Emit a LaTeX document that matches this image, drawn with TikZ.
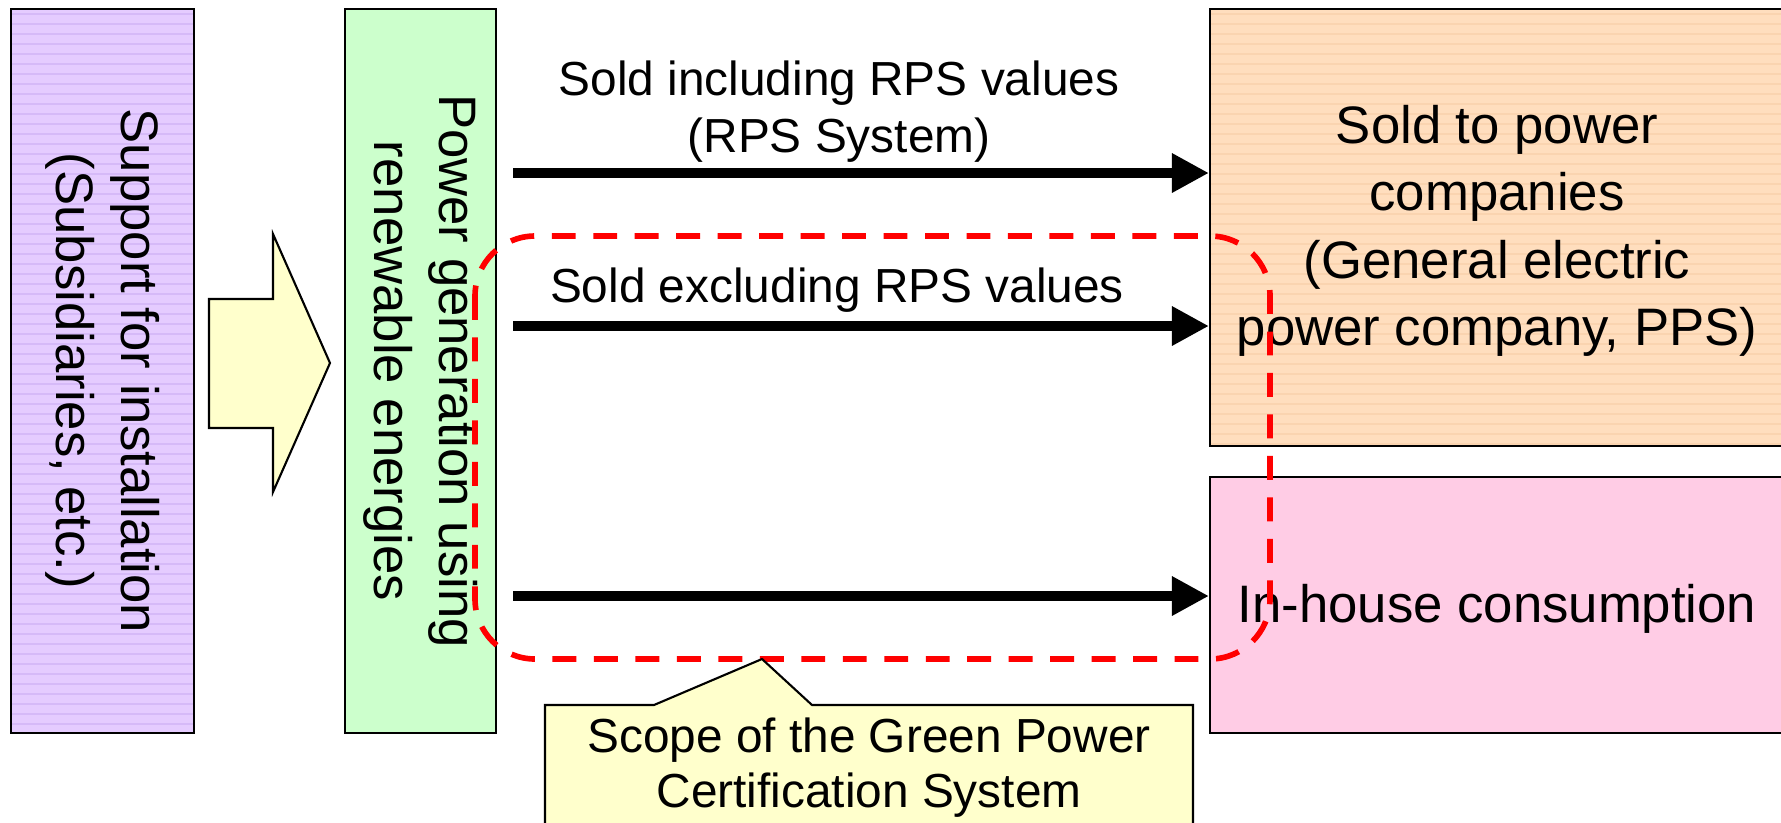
\documentclass[tikz,border=0pt]{standalone}
\usepackage{fontspec}
\setmainfont{Liberation Sans}
\usetikzlibrary{arrows.meta}

\definecolor{lilac}{RGB}{229,204,255}
\definecolor{lilacline}{RGB}{214,186,248}
\definecolor{mint}{RGB}{204,255,204}
\definecolor{cream}{RGB}{255,255,204}
\definecolor{peach}{RGB}{255,222,190}
\definecolor{peachline}{RGB}{250,212,176}
\definecolor{blush}{RGB}{255,204,229}

\begin{document}
\begin{tikzpicture}[line width=0.6pt,
    box/.style={draw=black,inner sep=0pt},
    bigtext/.style={font=\fontsize{15}{18.6}\selectfont,align=center,inner sep=0pt},
    smalltext/.style={font=\fontsize{13.6}{16.2}\selectfont,align=center,inner sep=0pt},
    flow/.style={line width=3.1pt,-{Triangle[length=0.37cm,width=0.37cm]}},
    certline/.style={red,line width=1.6pt,dash pattern=on 6.8pt off 5pt,rounded corners=0.6cm},
    ruled/.style={path picture={
        \foreach \k in {0,...,75}
          \draw[#1,line width=0.35pt] ([yshift=-\k mm-0.5mm]path picture bounding box.north west)
            -- ++(6,0);}}]
  \useasboundingbox (0,0) rectangle (17.81,-8.22);

  % boxes
  \node[box,fill=lilac,ruled=lilacline,minimum width=1.83cm,minimum height=7.24cm] (supp) at (1.025,-3.71) {};
  \node[box,fill=mint,minimum width=1.51cm,minimum height=7.24cm] (gen) at (4.205,-3.71) {};
  \node[box,fill=peach,ruled=peachline,minimum width=5.74cm,minimum height=4.37cm] (sold) at (14.97,-2.275) {};
  \node[box,fill=blush,minimum width=5.74cm,minimum height=2.56cm] (self) at (14.97,-6.05) {};

  \node[bigtext,rotate=-90] (supptxt) at (supp) {Support for installation\\(Subsidiaries, etc.)};
  \node[bigtext,rotate=-90] (gentxt) at (gen) {Power generation using\\renewable energies};
  \node[bigtext,font=\fontsize{15}{19.2}\selectfont] (soldtxt) at (14.97,-2.31) {Sold to power\\companies\\(General electric\\power company, PPS)};
  \node[bigtext] (selftxt) at (14.97,-6.09) {In-house consumption};

  % block arrow into the generation box
  \draw[fill=cream] (2.09,-2.99) -- (2.73,-2.99) -- (2.73,-2.34) -- (3.30,-3.63)
    -- (2.73,-4.92) -- (2.73,-4.28) -- (2.09,-4.28) -- cycle;

  % sales routes
  \coordinate (g1) at (5.13,-1.73);
  \coordinate (g2) at (5.13,-3.26);
  \coordinate (g3) at (5.13,-5.96);
  \draw[flow] (g1) -- (g1 -| sold.west);
  \draw[flow] (g2) -- (g2 -| sold.west);
  \draw[flow] (g3) -- (g3 -| self.west);
  \node[smalltext] (incl) at (8.39,-1.115) {Sold including RPS values\\(RPS System)};
  \node[smalltext,anchor=base] (excl) at (8.37,-3.02) {Sold excluding RPS values};

  % certification scope
  \draw[certline] (4.75,-2.36) rectangle (12.70,-6.59);
  \draw[fill=cream] (5.45,-8.40) -- (5.45,-7.05) -- (6.54,-7.05) -- (7.62,-6.59)
    -- (8.12,-7.05) -- (11.93,-7.05) -- (11.93,-8.40);
  \node[font=\fontsize{13.6}{15.6}\selectfont,align=center,inner sep=0pt] (cert) at (8.69,-7.68)
    {Scope of the Green Power\\Certification System};
\end{tikzpicture}
\end{document}
